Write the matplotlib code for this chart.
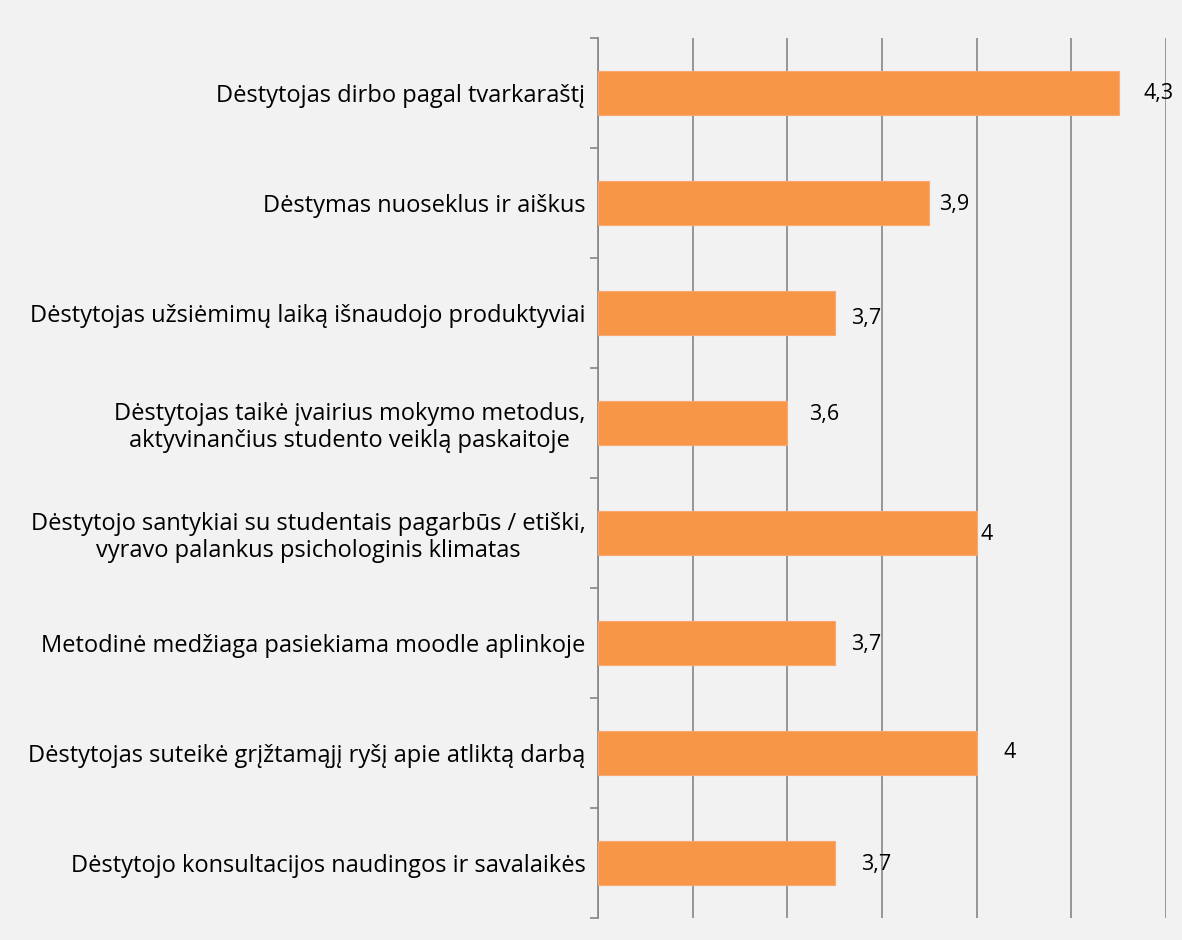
import numpy as np
import matplotlib.pyplot as plt
from matplotlib.ticker import FixedLocator, NullFormatter

# Survey statements (top to bottom) and their average scores
labels = [
    "Dėstytojas dirbo pagal tvarkaraštį",
    "Dėstymas nuoseklus ir aiškus",
    "Dėstytojas užsiėmimų laiką išnaudojo produktyviai",
    "Dėstytojas taikė įvairius mokymo metodus,\naktyvinančius studento veiklą paskaitoje",
    "Dėstytojo santykiai su studentais pagarbūs / etiški,\nvyravo palankus psichologinis klimatas",
    "Metodinė medžiaga pasiekiama moodle aplinkoje",
    "Dėstytojas suteikė grįžtamąjį ryšį apie atliktą darbą",
    "Dėstytojo konsultacijos naudingos ir savalaikės",
]
values = [4.3, 3.9, 3.7, 3.6, 4.0, 3.7, 4.0, 3.7]
value_text = ["4,3", "3,9", "3,7", "3,6", "4", "3,7", "4", "3,7"]
# label offsets from bar end (points) to mimic the original placement
label_dx = [18, 7, 12, 16, 3, 12, 19, 19]
label_dy = [0, -1, -4, 6, -1, -1, 0, -1]

xmin, xmax = 3.2, 4.4
bg = "#f2f2f2"

plt.rcParams['font.family'] = ['Open Sans', 'DejaVu Sans']

fig = plt.figure(figsize=(11.82, 9.4), dpi=100, facecolor=bg)
ax = fig.add_axes([598 / 1182, 1 - 918 / 940, (1166 - 598) / 1182, (918 - 38) / 940])
ax.set_facecolor(bg)

n = len(values)
y = np.arange(n)
ax.barh(y, [v - xmin for v in values], left=xmin, height=0.4,
        color="#f79646", edgecolor="#f8a870", linewidth=0.8, zorder=3)

ax.set_xlim(xmin, xmax)
ax.set_ylim(n - 0.5, -0.5)

# vertical gridlines every 0.2, no tick labels
ax.xaxis.set_major_locator(FixedLocator(np.arange(xmin, xmax + 0.01, 0.2)))
ax.xaxis.set_major_formatter(NullFormatter())
ax.tick_params(axis='x', length=0)
ax.grid(axis='x', color="#868686", linewidth=1.2, zorder=1)

# category labels, with tick marks at band boundaries
ax.set_yticks(y)
ax.set_yticklabels(labels, fontsize=17, ha='right', multialignment='center',
                   linespacing=1.15)
ax.tick_params(axis='y', which='major', length=0, pad=9)
ax.yaxis.set_minor_locator(FixedLocator(np.arange(-0.5, n, 1.0)))
ax.tick_params(axis='y', which='minor', length=6, color="#868686", width=1.2)

for s in ['top', 'right', 'bottom']:
    ax.spines[s].set_visible(False)
ax.spines['left'].set_color("#868686")
ax.spines['left'].set_linewidth(1.2)

for i, (v, t) in enumerate(zip(values, value_text)):
    ax.annotate(t, (v, i), xytext=(label_dx[i], label_dy[i]), textcoords='offset points',
                ha='left', va='center', fontsize=15.5, zorder=4, annotation_clip=False)

fig.savefig("out.png", dpi=100, facecolor=bg)
